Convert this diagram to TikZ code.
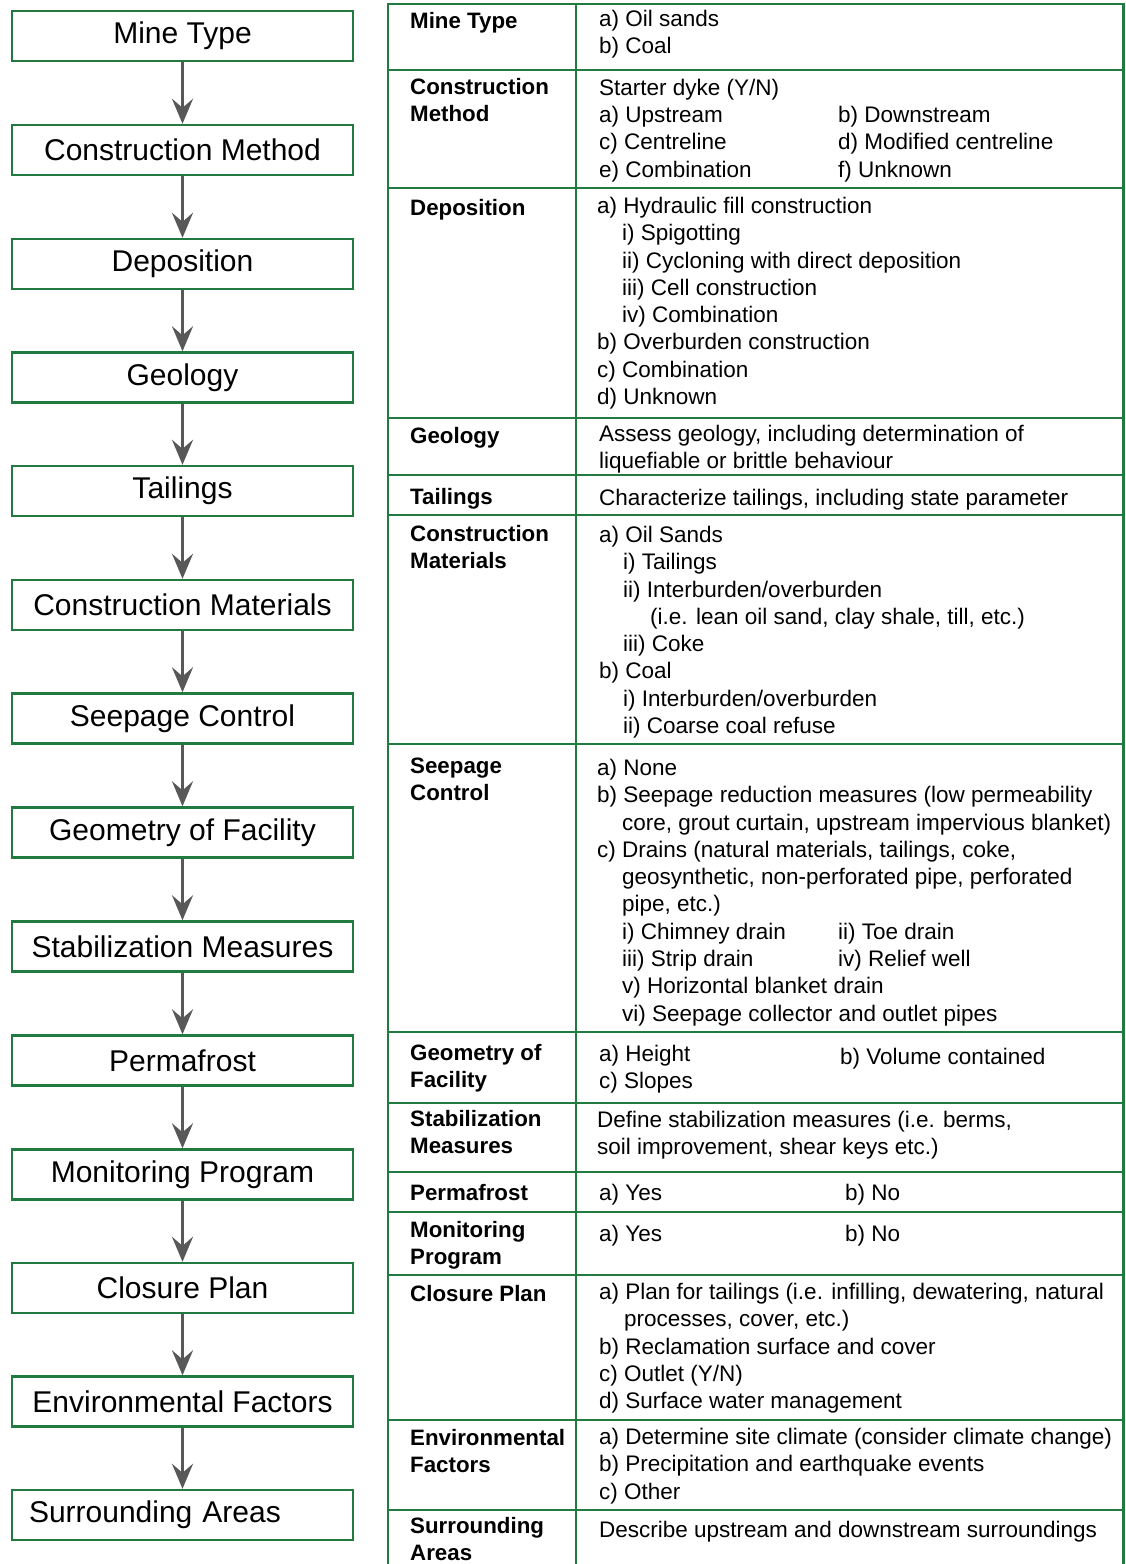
\documentclass[tikz,border=0pt]{standalone}
\usepackage{fontspec}
\setmainfont{Liberation Sans}
\usetikzlibrary{arrows.meta}
\definecolor{frame}{RGB}{33,122,63}
\definecolor{arrowgrey}{RGB}{88,88,88}
\begin{document}
\begin{tikzpicture}[x=1pt,y=-1pt,
  stepbox/.style={draw=frame, line width=2.4pt, minimum width=341pt, minimum height=50pt,
    inner sep=0pt, font=\fontsize{30}{36}\selectfont},
  flow/.style={draw=arrowgrey, line width=3pt,
    -{Stealth[length=25pt,width=21pt,inset=9pt]}},
  grid/.style={draw=frame, line width=2.4pt},
  % text cells: the given point is the baseline of the first line
  cell/.style={anchor=north west, align=left, inner sep=0pt,
    execute at begin node=\strut},
  head/.style={cell, yshift=18.11pt, font=\fontsize{22.3}{27.3}\selectfont\bfseries},
  body/.style={cell, yshift=17.11pt, font=\fontsize{22.5}{27.3}\selectfont}]
\useasboundingbox (0,0) rectangle (1125,1564);
\fill[white] (0,0) rectangle (1125,1564);

% ---- flow chart of steps ----
\node[stepbox] (s1)  at (182.5,36)   {Mine Type};
\node[stepbox] (s2)  at (182.5,150)  {Construction Method};
\node[stepbox] (s3)  at (182.5,264)  {Deposition};
\node[stepbox] (s4)  at (182.5,377.5){Geology};
\node[stepbox] (s5)  at (182.5,491)  {Tailings};
\node[stepbox] (s6)  at (182.5,605)  {Construction Materials};
\node[stepbox] (s7)  at (182.5,718.5){Seepage Control};
\node[stepbox] (s8)  at (182.5,832.5){Geometry of Facility};
\node[stepbox] (s9)  at (182.5,946.5){Stabilization Measures};
\node[stepbox] (s10) at (182.5,1060.5){Permafrost};
\node[stepbox] (s11) at (182.5,1174.5){Monitoring Program};
\node[stepbox] (s12) at (182.5,1288){Closure Plan};
\node[stepbox] (s13) at (182.5,1401.5){Environmental Factors};
\node[stepbox, text width=307pt, align=left] (s14) at (182.5,1515){Surrounding Areas};

\foreach \a/\b in {s1/s2,s2/s3,s3/s4,s4/s5,s5/s6,s6/s7,s7/s8,s8/s9,s9/s10,s10/s11,s11/s12,s12/s13,s13/s14}
  \draw[flow] (\a.south) -- (\b.north);

% ---- table grid ----
\foreach \y in {4,70,188,418,475,515,744,1032,1103,1172,1212,1275,1420,1510}
  \draw[grid] (388,\y) -- (1123.5,\y);
\draw[grid] (388,2.8) -- (388,1566);
\draw[grid] (576,2.8) -- (576,1566);
\draw[grid] (1123.5,2.8) -- (1123.5,1566);

% ---- row headings ----
\node[head] (h1)  at (410,27)   {Mine Type};
\node[head] (h2)  at (410,96)   {Construction\\Method};
\node[head] (h3)  at (410,214)  {Deposition};
\node[head] (h4)  at (410,442)  {Geology};
\node[head] (h5)  at (410,503)  {Tailings};
\node[head] (h6)  at (410,543)  {Construction\\Materials};
\node[head] (h7)  at (410,776)  {Seepage\\Control};
\node[head] (h8)  at (410,1062) {Geometry of\\Facility};
\node[head] (h9)  at (410,1128) {Stabilization\\Measures};
\node[head] (h10) at (410,1199) {Permafrost};
\node[head] (h11) at (410,1239) {Monitoring\\Program};
\node[head] (h12) at (410,1300) {Closure Plan};
\node[head] (h13) at (410,1447) {Environmental\\Factors};
\node[head] (h14) at (410,1535) {Surrounding\\Areas};

% ---- row contents ----
\node[body] (c1) at (599,27) {a) Oil sands\\b) Coal};

\node[body] (c2) at (599,96) {Starter dyke (Y/N)\\a) Upstream\\c) Centreline\\e) Combination};
\node[body] (c2b) at (838,123.3) {b) Downstream\\d) Modified centreline\\f) Unknown};

\node[body] (c3) at (597,214) {a) Hydraulic fill construction\\
  \hspace*{25pt}i) Spigotting\\
  \hspace*{25pt}ii) Cycloning with direct deposition\\
  \hspace*{25pt}iii) Cell construction\\
  \hspace*{25pt}iv) Combination\\
  b) Overburden construction\\
  c) Combination\\
  d) Unknown};

\node[body] (c4) at (599,442) {Assess geology, including determination of\\liquefiable or brittle behaviour};

\node[body] (c5) at (599,503) {Characterize tailings, including state parameter};

\node[body] (c6) at (599,543) {a) Oil Sands\\
  \hspace*{24pt}i) Tailings\\
  \hspace*{24pt}ii) Interburden/overburden\\
  \hspace*{51pt}(i.e. lean oil sand, clay shale, till, etc.)\\
  \hspace*{24pt}iii) Coke\\
  b) Coal\\
  \hspace*{24pt}i) Interburden/overburden\\
  \hspace*{24pt}ii) Coarse coal refuse};

\node[body] (c7) at (597,776) {a) None\\
  b) Seepage reduction measures (low permeability\\
  \hspace*{25pt}core, grout curtain, upstream impervious blanket)\\
  c) Drains (natural materials, tailings, coke,\\
  \hspace*{25pt}geosynthetic, non-perforated pipe, perforated\\
  \hspace*{25pt}pipe, etc.)\\
  \hspace*{25pt}i) Chimney drain\\
  \hspace*{25pt}iii) Strip drain\\
  \hspace*{25pt}v) Horizontal blanket drain\\
  \hspace*{25pt}vi) Seepage collector and outlet pipes};
\node[body] (c7b) at (838,939.8) {ii) Toe drain\\iv) Relief well};

\node[body] (c8) at (599,1062) {a) Height\\c) Slopes};
\node[body] (c8b) at (840,1062) {b) Volume contained};

\node[body] (c9) at (597,1128) {Define stabilization measures (i.e. berms,\\soil improvement, shear keys etc.)};

\node[body] (c10) at (599,1198) {a) Yes};
\node[body] (c10b) at (845,1198) {b) No};

\node[body] (c11) at (599,1239) {a) Yes};
\node[body] (c11b) at (845,1239) {b) No};

\node[body] (c12) at (599,1300) {a) Plan for tailings (i.e. infilling, dewatering, natural\\
  \hspace*{25pt}processes, cover, etc.)\\
  b) Reclamation surface and cover\\
  c) Outlet (Y/N)\\
  d) Surface water management};

\node[body] (c13) at (599,1445) {a) Determine site climate (consider climate change)\\
  b) Precipitation and earthquake events\\
  c) Other};

\node[body] (c14) at (599,1535) {Describe upstream and downstream surroundings};
\end{tikzpicture}
\end{document}
